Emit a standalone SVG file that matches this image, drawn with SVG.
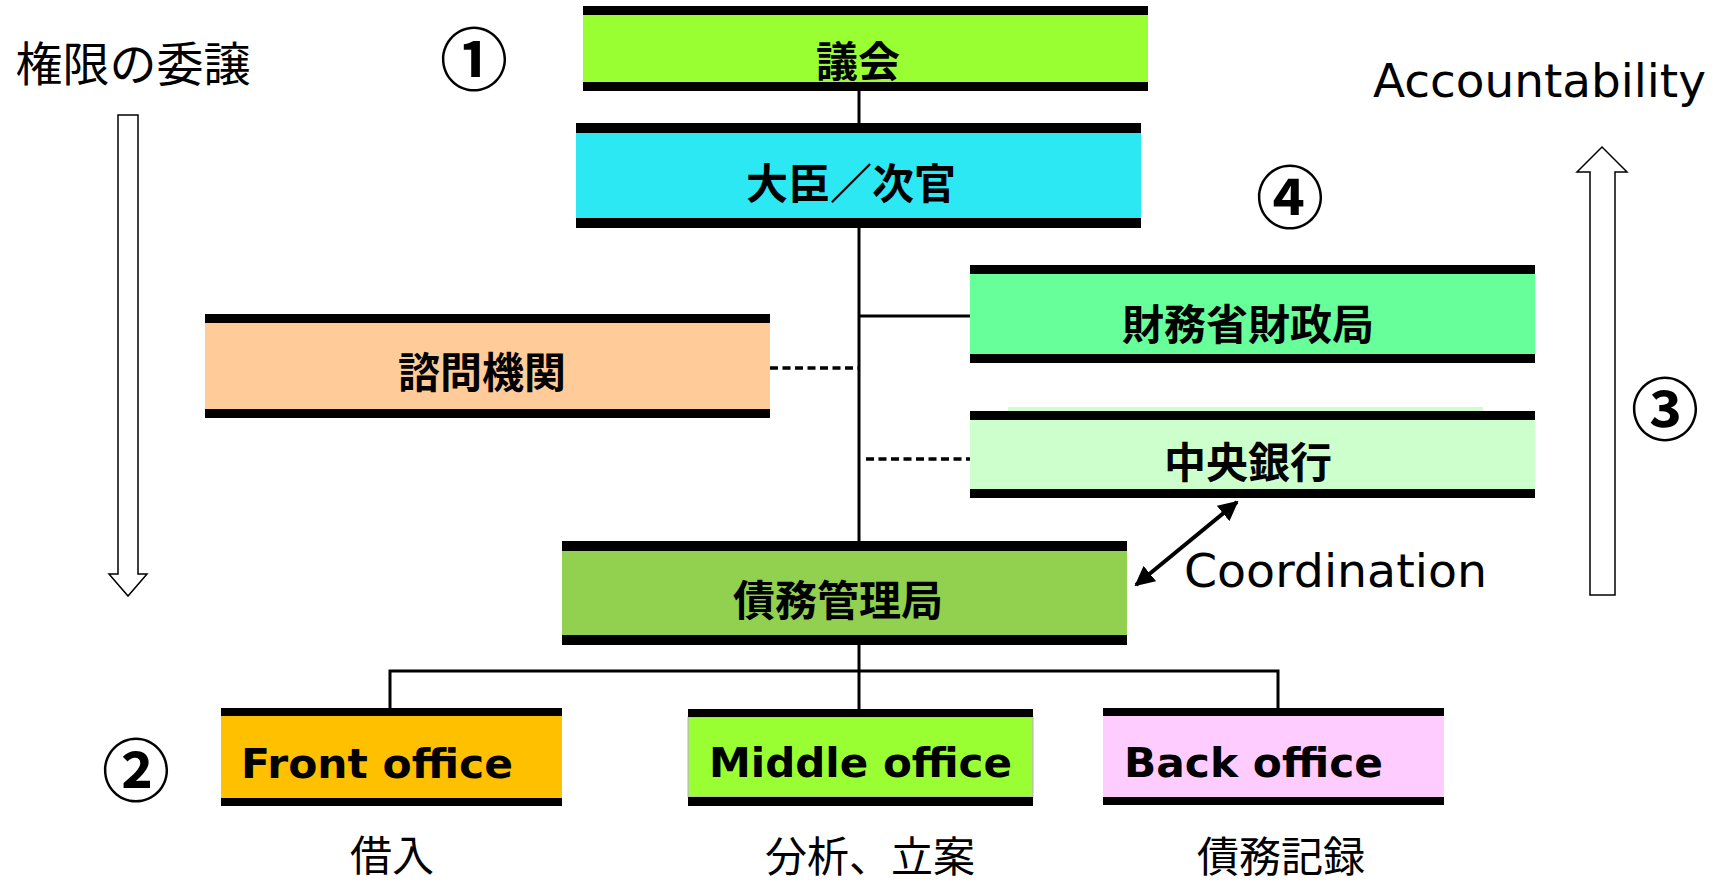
<svg xmlns="http://www.w3.org/2000/svg" width="1713" height="883" viewBox="0 0 1713 883">
<style>
.bar{fill:#000}
.lbl{font-family:"Noto Sans CJK JP","Noto Sans CJK SC",sans-serif;font-weight:bold;font-size:42px;text-anchor:middle;dominant-baseline:central;fill:#000}
.en{font-family:"DejaVu Sans",sans-serif;font-weight:bold;font-size:40px;fill:#000}
.plain{font-family:"Noto Sans CJK JP","Noto Sans CJK SC",sans-serif;font-size:44px;text-anchor:middle;dominant-baseline:central;fill:#000}
.low{font-size:42px}
.lat{font-family:"DejaVu Sans",sans-serif;font-size:46px;fill:#000}
.num{font-family:"Noto Sans CJK JP","Noto Sans CJK SC",sans-serif;font-weight:bold;font-size:68px;text-anchor:middle;dominant-baseline:central;fill:#000}
.ln{stroke:#000;stroke-width:3;fill:none}
.dash{stroke:#000;stroke-width:3.5;fill:none;stroke-dasharray:8 4.5}
.hollow{fill:#fff;stroke:#000;stroke-width:1.5}
</style>
<defs>
<marker id="ah" viewBox="0 0 10 10" refX="9" refY="5" markerWidth="5" markerHeight="5" orient="auto-start-reverse" markerUnits="strokeWidth">
<path d="M0,0 L10,5 L0,10 Z" fill="#000"/>
</marker>
</defs>
<rect width="1713" height="883" fill="#fff"/>

<g id="connectors">
<line class="ln" x1="859" y1="91" x2="859" y2="709"/>
<line class="ln" x1="859" y1="316" x2="970" y2="316"/>
<line class="dash" x1="770" y1="368" x2="858" y2="368"/>
<line class="dash" x1="866" y1="459" x2="970" y2="459"/>
<polyline class="ln" points="390,708 390,671 1278,671 1278,708"/>
<line x1="1237" y1="502" x2="1136" y2="585" stroke="#000" stroke-width="4" marker-start="url(#ah)" marker-end="url(#ah)"/>
</g>

<g id="n-gikai">
<rect x="583" y="15" width="565" height="67" fill="#99FF33"/>
<rect class="bar" x="583" y="6" width="565" height="9"/>
<rect class="bar" x="583" y="82" width="565" height="9"/>
<text class="lbl" x="858" y="58">議会</text>
</g>

<g id="n-daijin">
<rect x="576" y="133" width="565" height="85" fill="#2CE8F2"/>
<rect class="bar" x="576" y="123" width="565" height="10"/>
<rect class="bar" x="576" y="218" width="565" height="10"/>
<text class="lbl" x="851" y="180">大臣／次官</text>
</g>

<g id="n-shimon">
<rect x="205" y="323" width="565" height="86" fill="#FFCC99"/>
<rect class="bar" x="205" y="314" width="565" height="9"/>
<rect class="bar" x="205" y="409" width="565" height="9"/>
<text class="lbl" x="482" y="369">諮問機関</text>
</g>

<g id="n-zaimu">
<rect x="970" y="274" width="565" height="80" fill="#66FF99"/>
<rect class="bar" x="970" y="265" width="565" height="9"/>
<rect class="bar" x="970" y="354" width="565" height="9"/>
<text class="lbl" x="1248" y="321">財務省財政局</text>
</g>

<g id="n-chuo">
<rect x="1008" y="407" width="475" height="5" fill="#CCFFCC"/>
<rect x="970" y="420" width="565" height="69" fill="#CCFFCC"/>
<rect class="bar" x="970" y="411" width="565" height="9"/>
<rect class="bar" x="970" y="489" width="565" height="9"/>
<text class="lbl" x="1248" y="459">中央銀行</text>
</g>

<g id="n-saimu">
<rect x="562" y="551" width="565" height="84" fill="#92D050"/>
<rect class="bar" x="562" y="541" width="565" height="10"/>
<rect class="bar" x="562" y="635" width="565" height="10"/>
<text class="lbl" x="838" y="597">債務管理局</text>
</g>

<g id="n-front">
<rect x="221" y="716" width="341" height="82" fill="#FFC000"/>
<rect class="bar" x="221" y="708" width="341" height="8"/>
<rect class="bar" x="221" y="798" width="341" height="8"/>
<text class="en" x="241" y="778" textLength="272" lengthAdjust="spacingAndGlyphs">Front office</text>
<text class="plain low" x="392" y="852">借入</text>
</g>

<g id="n-middle">
<rect x="688" y="717" width="345" height="80" fill="#99FF33" stroke="#CC99FF" stroke-width="1"/>
<rect class="bar" x="688" y="709" width="345" height="8"/>
<rect class="bar" x="688" y="797" width="345" height="9"/>
<text class="en" x="709" y="777" textLength="303" lengthAdjust="spacingAndGlyphs">Middle office</text>
<text class="plain low" x="870" y="853">分析、立案</text>
</g>

<g id="n-back">
<rect x="1103" y="716" width="341" height="81" fill="#FFCCFF"/>
<rect class="bar" x="1103" y="708" width="341" height="8"/>
<rect class="bar" x="1103" y="797" width="341" height="8"/>
<text class="en" x="1124" y="777" textLength="259" lengthAdjust="spacingAndGlyphs">Back office</text>
<text class="plain low" x="1281" y="853">債務記録</text>
</g>

<g id="side">
<text class="plain" x="133" y="60" style="font-size:47px">権限の委譲</text>
<polygon class="hollow" points="118,115 138,115 138,574 147,574 128,596 109,574 118,574"/>
<text class="lat" x="1373" y="97" textLength="333" lengthAdjust="spacingAndGlyphs">Accountability</text>
<polygon class="hollow" points="1590,595 1590,172 1577,172 1602,147 1627,172 1615,172 1615,595"/>
<text class="lat" x="1184" y="587" textLength="303" lengthAdjust="spacingAndGlyphs">Coordination</text>
<text class="num" x="474" y="55">①</text>
<text class="num" x="136" y="766">②</text>
<text class="num" x="1665" y="405">③</text>
<text class="num" x="1290" y="193">④</text>
</g>
</svg>
